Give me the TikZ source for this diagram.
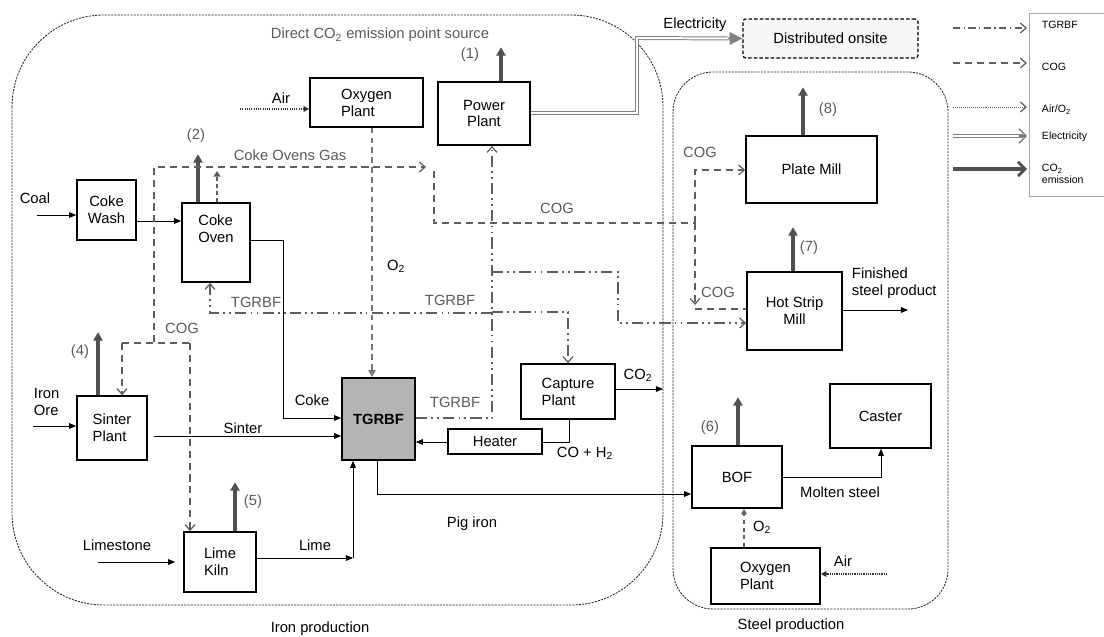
\documentclass[tikz,border=0pt]{standalone}
\usepackage{fontspec}
\setmainfont{Liberation Sans}
\usetikzlibrary{arrows.meta,calc}
\definecolor{flowgray}{HTML}{5E5E5E}
\definecolor{emgray}{HTML}{505050}
\definecolor{labgray}{HTML}{5A5A5A}
\definecolor{tgfill}{HTML}{B4B4B4}
\begin{document}
\begin{tikzpicture}[x=0.025cm,y=-0.025cm,
  font=\fontsize{10.5}{12}\selectfont,
  box/.style={draw,line width=1.1pt,inner sep=1pt,align=center},
  flow/.style={line width=0.6pt,-{Triangle[length=5pt,width=4pt]}},
  plain/.style={line width=0.6pt},
  emis/.style={draw=emgray,line width=2.2pt,-{Triangle[length=6pt,width=6.5pt]}},
  cog/.style={draw=flowgray,line width=1.1pt,dash pattern=on 5pt off 3.5pt},
  barb/.style={-{Straight Barb[length=4pt,width=7pt,line width=0.9pt]}},
  tgr/.style={draw=flowgray,line width=1.5pt,dash pattern=on 8pt off 3pt on 1.2pt off 3pt on 1.2pt off 3pt},
  airline/.style={draw=black!80,line width=1pt,dash pattern=on 0.8pt off 0.8pt},
  bound/.style={draw=black!85,line width=0.6pt,dash pattern=on 1.5pt off 0.8pt,rounded corners=#1},
  glab/.style={text=labgray},
  leg/.style={font=\fontsize{7.5}{8.5}\selectfont,anchor=west,align=left},
]
\useasboundingbox (0,0) rectangle (1104,637);

% production areas
\draw[bound=2.3cm] (12,15) rectangle (663,605);
\draw[bound=1cm] (673,72) rectangle (948,609);
\node (ironlab) at (320,629) {Iron production};
\node (steellab) at (791,626) {Steel production};
\node[glab] (direct) at (380,35) {Direct CO\textsubscript{2} emission point source};

% boxes
\node[box,minimum width=2.825cm,minimum height=1.225cm,align=left] (op1) at (366.5,102.5) {Oxygen\\Plant};
\node[box,minimum width=2.3cm,minimum height=1.575cm] (pp) at (484,113.5) {Power\\Plant};
\node[draw,line width=0.9pt,dash pattern=on 2.5pt off 1.5pt,fill=black!3,rounded corners=2pt,minimum width=4.375cm,minimum height=0.975cm] (do) at (830.5,38.5) {Distributed onsite};
\node[box,minimum width=1.475cm,minimum height=1.5cm] (cw) at (106.5,210) {Coke\\Wash};
\node[box,minimum width=1.7cm,minimum height=1.975cm,align=left] (co) at (216,242.5) {Coke\\Oven\\[8pt]};
\node[box,minimum width=1.75cm,minimum height=1.6cm,align=left] (sp) at (112,428) {Sinter\\Plant};
\node[box,minimum width=1.8cm,minimum height=1.5cm,align=left] (lk) at (220,562) {Lime\\Kiln};
\node[box,fill=tgfill,minimum width=1.825cm,minimum height=2.05cm,font=\fontsize{10.5}{12}\selectfont\bfseries] (tg) at (378.5,419) {TGRBF};
\node[box,minimum width=2.35cm,minimum height=1.375cm,align=left] (cp) at (568,391.5) {Capture\\Plant};
\node[box,minimum width=2.35cm,minimum height=0.625cm] (ht) at (495,441.5) {Heater};
\node[box,minimum width=2.25cm,minimum height=1.55cm] (bof) at (737,477) {BOF};
\node[box,minimum width=2.525cm,minimum height=1.6cm] (ca) at (880.5,416) {Caster};
\node[box,minimum width=2.725cm,minimum height=1.4cm,align=left] (op2) at (765.5,576) {Oxygen\\Plant};
\node[box,minimum width=3.275cm,minimum height=1.675cm] (pm) at (811.5,169.5) {Plate Mill};
\node[box,minimum width=2.375cm,minimum height=1.95cm] (hsm) at (794.5,311) {Hot Strip\\Mill};

% CO2 emissions
\draw[emis] ($(pp.north)+(17,0)$) -- ++(0,-34);
\node[glab] (e1) at (470,55) {(1)};
\draw[emis] ($(co.north)+(-18,0)$) -- ++(0,-48);
\node[glab] (e2) at (196,136) {(2)};
\draw[emis] ($(sp.north)+(-14,0)$) -- ++(0,-63);
\node[glab] (e4) at (80,352) {(4)};
\draw[emis] ($(lk.north)+(15,0)$) -- ++(0,-49);
\node[glab] (e5) at (253,502) {(5)};
\draw[emis] ($(bof.north)+(1,0)$) -- ++(0,-48);
\node[glab] (e6) at (710,428) {(6)};
\draw[emis] ($(hsm.north)+(-1.5,0)$) -- ++(0,-44);
\node[glab] (e7) at (809,248) {(7)};
\draw[emis] ($(pm.north)+(-8.5,0)$) -- ++(0,-48);
\node[glab] (e8) at (828,110) {(8)};

% solid material flows
\coordinate (coal) at (37,215);
\node (coallab) at (35,198) {Coal};
\draw[flow] (coal) -- (cw.west |- 0,215);
\draw[flow] (cw.east |- 0,221) -- (co.west |- 0,221);
\draw[flow] (co.east |- 0,240) -- (283,240) -- (283,418) -- (tg.west |- 0,418);
\node (cokelab) at (312,400) {Coke};
\coordinate (ore) at (33,426);
\node[anchor=west,align=left] (orelab) at (29,402) {Iron\\Ore};
\draw[flow] (ore) -- (sp.west |- 0,426);
\draw[flow] ($(sp.east |- 0,436)+(6,0)$) -- (tg.west |- 0,436);
\node (sinterlab) at (243,428) {Sinter};
\coordinate (lime) at (98,562);
\node (limestonelab) at (117,545) {Limestone};
\draw[flow] (lime) -- ($(lk.west |- 0,562)+(-8,0)$);
\coordinate (limec) at (353,558);
\draw[flow] (lk.east |- 0,558) -- (limec);
\draw[flow] (limec) -- (tg.south -| 353,0);
\node (limelab) at (315,545) {Lime};
\draw[flow] (tg.south -| 377,0) -- (377,494) -- (bof.west |- 0,494);
\node (piglab) at (472,524) {Pig iron};
\coordinate (co2out) at (663,389);
\draw[flow] (cp.east |- 0,389) -- (co2out);
\node (co2lab) at (638,375) {CO\textsubscript{2}};
\draw[plain] (cp.south -| 569,0) -- (569,442) -- (ht.east |- 0,442);
\draw[flow] (ht.west |- 0,442) -- (tg.east |- 0,442);
\node (cohlab) at (585,453) {CO + H\textsubscript{2}};
\coordinate (fin) at (908,310);
\draw[flow] (hsm.east |- 0,310) -- (fin);
\node[anchor=west,align=left] (finlab) at (847,283) {Finished\\steel product};
\draw[flow] (bof.east |- 0,477) -- (881,477) -- (ca.south -| 881,0);
\node (moltenlab) at (840,492) {Molten steel};

% oxygen and air
\draw[draw=flowgray,line width=1.1pt,dash pattern=on 3pt off 2.5pt,-{Triangle[length=4pt,width=4pt]}] (op2.north -| 744,0) -- (bof.south -| 744,0);
\node (o2b) at (762,527) {O\textsubscript{2}};
\coordinate (airb) at (887,574);
\draw[airline,-{Triangle[length=4pt,width=4pt]}] (airb) -- (op2.east |- 0,574);
\node (airblab) at (843,561) {Air};
\coordinate (airt) at (240,109);
\draw[airline,-{Triangle[length=4pt,width=4pt]}] (airt) -- (op1.west |- 0,109);
\node (airtlab) at (281,98) {Air};
\draw[draw=flowgray!85,line width=1.3pt,dash pattern=on 4pt off 3pt,-{Triangle[length=5pt,width=5pt,fill=flowgray!60]}] (op1.south -| 372,0) -- (tg.north -| 372,0);
\node (o2t) at (396,266) {O\textsubscript{2}};

% electricity
\draw[draw=gray,line width=0.7pt,double=white,double distance=1.4pt] (pp.east |- 0,113) -- (637,113) -- (637,38) -- ($(do.west)+(-10,0)$);
\draw[draw=gray,line width=0.5pt,-{Triangle[length=9pt,width=9pt]}] ($(do.west)+(-14,0)$) -- (do.west);
\node (eleclab) at (695,25) {Electricity};

% coke oven gas
\draw[cog,barb] (154,342) -- (154,167) -- (426,167);
\node[glab] (cogl1) at (290,155) {Coke Ovens Gas};
\draw[draw=flowgray,line width=1.1pt,dash pattern=on 3pt off 2pt,-{Triangle[length=4pt,width=5pt]}] (co.north -| 217,0) -- (217,171);
\draw[cog] (122,343) -- (190,343);
\draw[cog,barb] (122,343) -- (sp.north -| 122,0);
\draw[cog,barb] (190,343) -- (lk.north -| 190,0);
\node[glab] (cogl2) at (182,328) {COG};
\draw[cog] (434,171) -- (434,223) -- (695,223);
\draw[cog,barb] (695,223) -- (695,170) -- (pm.west |- 0,170);
\draw[cog,barb] (695,223) -- (695,305);
\draw[cog] (695,309) -- (hsm.west |- 0,309);
\node[glab] (cogl3) at (557,208) {COG};
\node[glab] (cogl4) at (700,152) {COG};
\node[glab] (cogl5) at (718,292) {COG};

% top gas recycling blast furnace gas
\draw[tgr,barb] (tg.east |- 0,418) -- (492,418) -- (pp.south -| 492,0);
\draw[tgr,barb] (492,272) -- (618,272) -- (618,323) -- (hsm.west |- 0,323);
\draw[tgr,line width=1pt,barb] (492,312) -- (568,312) -- (cp.north -| 568,0);
\draw[tgr,barb] (492,313) -- (210,313) -- (co.south -| 210,0);
\node[glab] (tgl1) at (256,302) {TGRBF};
\node[glab] (tgl2) at (450,300) {TGRBF};
\node[glab] (tgl3) at (455,402) {TGRBF};

% legend
\draw[draw=black!35,line width=0.6pt] (1104,13) -- (1029,13) -- (1029,196) -- (1104,196);
\coordinate (l1a) at (953,28);  \coordinate (l1b) at (1027,28);
\coordinate (l2a) at (953,63);  \coordinate (l2b) at (1027,63);
\coordinate (l3a) at (953,107); \coordinate (l3b) at (1027,107);
\coordinate (l4a) at (953,136); \coordinate (l4b) at (1027,136);
\coordinate (l5a) at (953,169); \coordinate (l5b) at (1027,169);
\draw[draw=flowgray,line width=0.8pt,dash pattern=on 5pt off 2.5pt on 1pt off 2.5pt,barb] (l1a) -- (l1b);
\draw[cog,barb] (l2a) -- (l2b);
\draw[draw=flowgray,line width=0.7pt,dash pattern=on 0.7pt off 0.7pt,barb] (l3a) -- (l3b);
\draw[draw=gray,line width=0.6pt,double=white,double distance=1.4pt] (l4a) -- ($(l4b)+(-4,0)$);
\draw[draw=gray,line width=1pt,-{Straight Barb[length=5pt,width=10pt,line width=1pt]}] ($(l4b)+(-8,0)$) -- (l4b);
\draw[draw=emgray,line width=2.2pt,-{Straight Barb[length=5pt,width=10pt,line width=2pt]}] (l5a) -- (l5b);
\node[leg] (lg1) at (1037,25) {TGRBF};
\node[leg] (lg2) at (1037,67) {COG};
\node[leg] (lg3) at (1037,110) {Air/O\textsubscript{2}};
\node[leg] (lg4) at (1037,137) {Electricity};
\node[leg] (lg5) at (1037,174) {CO\textsubscript{2}\\emission};
\end{tikzpicture}
\end{document}
